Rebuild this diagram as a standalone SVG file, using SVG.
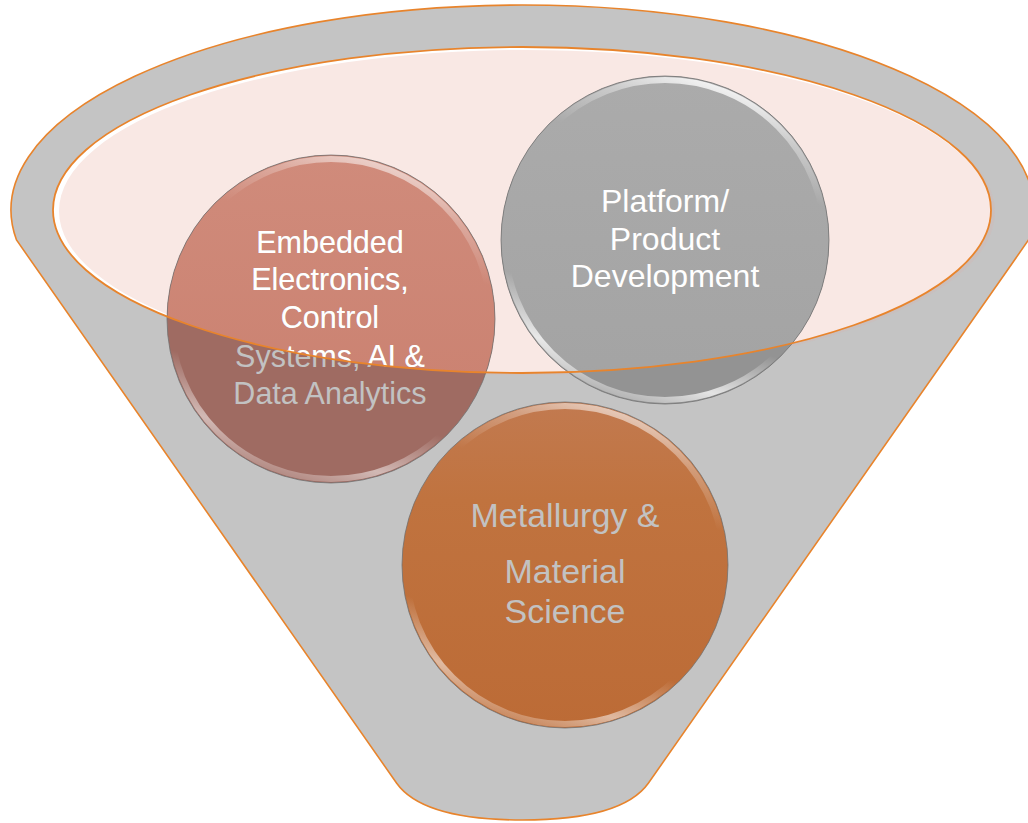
<svg xmlns="http://www.w3.org/2000/svg" width="1028" height="823" viewBox="0 0 1028 823">
<style>
.body{fill:#c4c4c4;stroke:#e8842c;stroke-width:1.6}
.rimline{fill:none;stroke:#e8842c;stroke-width:1.8}
.lbl{font-family:"Liberation Sans",Arial,sans-serif;text-anchor:middle}
.w{fill:#ffffff}
.g{fill:#c2c2c2}
.edge{fill:none;stroke:#6e6e6e;stroke-width:1;stroke-opacity:0.75}
.bevel{fill:none;stroke:url(#bevel);stroke-width:6}
</style>
<defs>
<clipPath id="inner"><ellipse cx="522" cy="210" rx="469" ry="163"/></clipPath>
<linearGradient id="bevel" x1="0.62" y1="0" x2="0.3" y2="1">
<stop offset="0" stop-color="#ffffff" stop-opacity="0.85"/>
<stop offset="0.1" stop-color="#ffffff" stop-opacity="0.4"/>
<stop offset="0.25" stop-color="#ffffff" stop-opacity="0"/>
<stop offset="0.72" stop-color="#ffffff" stop-opacity="0"/>
<stop offset="0.88" stop-color="#ffffff" stop-opacity="0.75"/>
<stop offset="1" stop-color="#ffffff" stop-opacity="0.2"/>
</linearGradient>
<linearGradient id="gEmbIn" x1="0" y1="0" x2="0" y2="1">
<stop offset="0" stop-color="#d08b7b"/>
<stop offset="1" stop-color="#c97f6e"/>
</linearGradient>
<linearGradient id="gMet" x1="0" y1="0" x2="0" y2="1">
<stop offset="0" stop-color="#c27a50"/>
<stop offset="0.3" stop-color="#c0733f"/>
<stop offset="1" stop-color="#bc6b36"/>
</linearGradient>
<linearGradient id="gPlat" x1="0" y1="0" x2="0" y2="1">
<stop offset="0" stop-color="#ababab"/>
<stop offset="1" stop-color="#a3a3a3"/>
</linearGradient>
</defs>

<g id="funnel">
<path class="body" d="M 16.5 240 A 511.5 205 0 1 1 1028.5 240 L 648.5 783 C 628 812 578 820 522.5 820 C 467 820 417 812 396.5 783 Z"/>
<ellipse cx="526" cy="212" rx="469" ry="163" fill="#cdbdbb" fill-opacity="0.6"/>
<ellipse cx="522" cy="210" rx="469" ry="163" fill="#ffffff"/>
<ellipse cx="525" cy="211" rx="466" ry="161" fill="#f9e8e4"/>
</g>

<g id="connectors"></g>

<g id="node-metallurgy">
<circle cx="565" cy="565" r="163" fill="url(#gMet)"/>
<circle cx="565" cy="565" r="159" class="bevel" stroke-opacity="0.7"/>
<circle cx="565" cy="565" r="163" class="edge"/>
<text class="lbl g" font-size="34" x="565" y="527">Metallurgy &amp;</text>
<text class="lbl g" font-size="34" x="565" y="583">Material</text>
<text class="lbl g" font-size="34" x="565" y="623">Science</text>
</g>

<g id="node-embedded">
<circle cx="331" cy="319" r="164" fill="#9f6b62"/>
<circle cx="331" cy="319" r="164" fill="url(#gEmbIn)" clip-path="url(#inner)"/>
<circle cx="331" cy="319" r="160" class="bevel" stroke-opacity="0.7"/>
<circle cx="331" cy="319" r="164" class="edge"/>
<g class="lbl g" font-size="30.5">
<text x="330" y="253">Embedded</text>
<text x="330" y="290">Electronics,</text>
<text x="330" y="328">Control</text>
<text x="330" y="367">Systems, AI &amp;</text>
<text x="330" y="404">Data Analytics</text>
</g>
<g class="lbl w" font-size="30.5" clip-path="url(#inner)">
<text x="330" y="253">Embedded</text>
<text x="330" y="290">Electronics,</text>
<text x="330" y="328">Control</text>
<text x="330" y="367">Systems, AI &amp;</text>
<text x="330" y="404">Data Analytics</text>
</g>
</g>

<g id="node-platform">
<circle cx="665" cy="240" r="164" fill="#939393"/>
<circle cx="665" cy="240" r="164" fill="url(#gPlat)" clip-path="url(#inner)"/>
<circle cx="665" cy="240" r="160" class="bevel"/>
<circle cx="665" cy="240" r="164" class="edge"/>
<text class="lbl w" font-size="32" x="665" y="212">Platform/</text>
<text class="lbl w" font-size="32" x="665" y="250">Product</text>
<text class="lbl w" font-size="32" x="665" y="287">Development</text>
</g>

<g id="funnel-rim">
<ellipse class="rimline" cx="522" cy="210" rx="469" ry="163"/>
</g>
</svg>
